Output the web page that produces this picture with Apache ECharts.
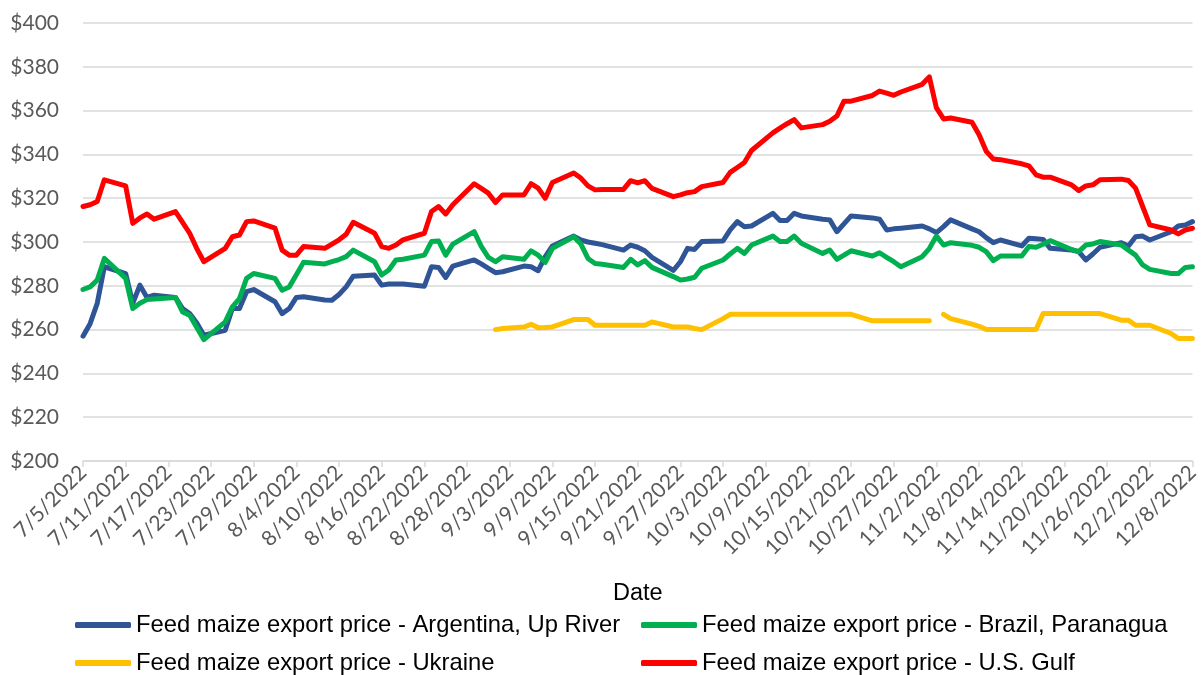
<!DOCTYPE html>
<html>
<head>
<meta charset="utf-8">
<script src="https://cdn.jsdelivr.net/npm/echarts@6/dist/echarts.min.js"></script>
<style>
html,body{margin:0;padding:0;background:#fff;}
#chart{width:1202px;height:675px;}
</style>
</head>
<body>
<div id="chart"></div>
<script>
// Observation dates (business days, 2022)
const obsDates = [
 '7/5','7/6','7/7','7/8',
 '7/11','7/12','7/13','7/14','7/15',
 '7/18','7/19','7/20','7/21','7/22',
 '7/25','7/26','7/27','7/28','7/29',
 '8/1','8/2','8/3','8/4','8/5',
 '8/8','8/9','8/10','8/11','8/12',
 '8/15','8/16','8/17','8/18','8/19',
 '8/22','8/23','8/24','8/25','8/26',
 '8/29','8/30','8/31','9/1','9/2',
 '9/5','9/6','9/7','9/8','9/9',
 '9/12','9/13','9/14','9/15','9/16',
 '9/19','9/20','9/21','9/22','9/23',
 '9/26','9/27','9/28','9/29','9/30',
 '10/3','10/4','10/5','10/6','10/7',
 '10/10','10/11','10/12','10/13','10/14',
 '10/17','10/18','10/19','10/20','10/21',
 '10/24','10/25','10/26','10/27','10/28',
 '10/31','11/1','11/2','11/3','11/4',
 '11/7','11/8','11/9','11/10','11/11',
 '11/14','11/15','11/16','11/17','11/18',
 '11/21','11/22','11/23','11/24','11/25',
 '11/28','11/29','11/30','12/1','12/2',
 '12/5','12/6','12/7','12/8'
];

const argentina = [
 257,262.7,272,288.7,
 285.6,272,280.3,274.7,275.7,
 274.7,269.6,267.3,263,257.4,
 259.7,269.6,269.6,277.3,278.3,
 272.7,267.3,269.6,274.7,275,
 273.5,273.4,276,279.5,284.4,
 284.9,280.3,280.8,280.8,280.8,
 279.8,288.7,288.4,283.8,289,
 291.8,290,288,286,286.4,
 289,288.7,286.9,293.3,298.2,
 302.7,300.9,300,299.4,298.8,
 296.3,298.6,297.6,296,293,
 287,291,297.1,296.6,300.2,
 300.5,305.5,309.3,307,307.3,
 313.1,309.8,309.8,313.1,311.9,
 310.4,310.1,304.7,308.3,311.9,
 311,310.4,305.5,306,306.3,
 307.3,306,304.3,307,310.1,
 306,304.7,302,299.7,300.9,
 298.2,301.7,301.5,301.2,297.1,
 296.3,295.6,291.8,294.5,297.6,
 299.7,298.2,302.4,302.7,300.9,
 304.7,307.3,307.8,309.3
];

const brazil = [
 278.3,279.5,282.6,292.5,
 283.4,269.6,272,273.7,274,
 274.7,268.1,266.6,261,255.4,
 263.5,270.4,274.2,283.4,285.6,
 283.4,278,279.5,285,290.7,
 290,291,292,293.3,296.3,
 291,284.9,287.2,291.8,292.1,
 294,300.2,300.5,294,299,
 304.7,298,293,291,293.3,
 292.1,296,294,290.7,297.1,
 302.4,299.1,292.5,290.2,289.8,
 288.4,292.1,289.5,291.5,288.4,
 284.2,282.6,283.1,283.9,288,
 291.8,294.5,297.1,294.8,298.6,
 302.7,300.2,300.2,302.7,299.4,
 294.8,296.3,292.1,294,296,
 293.6,295.1,293,291,288.7,
 293.3,297,302.7,298.6,299.7,
 298.5,297.6,295.6,291.5,293.6,
 293.6,297.9,297.6,299,300.6,
 296.6,295.6,298.6,299.1,300.2,
 298.6,296.3,294,289.5,287.5,
 285.6,285.6,288.4,288.7
];

const ukraine = [
 null,null,null,null,
 null,null,null,null,null,
 null,null,null,null,null,
 null,null,null,null,null,
 null,null,null,null,null,
 null,null,null,null,null,
 null,null,null,null,null,
 null,null,null,null,null,
 null,null,null,260,260.5,
 261.2,262.4,260.9,261,261.2,
 264.6,264.6,264.6,262,262,
 262,262,262,262,263.5,
 261.2,261.2,261.2,260.5,260,
 265,267,267,267,267,
 267,267,267,267,267,
 267,267,267,267,267,
 264,264,264,264,264,
 264,264,null,267,265,
 262.5,261.5,260,260,260,
 260,260,260,267.3,267.3,
 267.3,267.3,267.3,267.3,267.3,
 264.3,264.3,262,262,262,
 258.2,255.9,255.9,255.9
];

const usGulf = [
 316.2,317,318.5,328.4,
 325.6,308.5,311,312.8,310.4,
 313.9,309,304,297,291,
 297.1,302.4,303.2,309.3,309.6,
 306.3,296.3,294,294,297.9,
 297.1,299,301,303.5,309,
 304,297.9,297.1,298.6,301,
 304,313.9,316.2,312.8,317,
 326.6,324.5,322.3,318,321.5,
 321.5,326.6,324.6,320,327.2,
 331.5,329.2,325.6,323.8,324,
 324,328,327,328,324.5,
 320.7,321.5,322.5,323,325.3,
 327.2,331.8,334,336.3,341.8,
 349.8,352,354,355.9,352.1,
 353.6,355.1,357.5,364.3,364.3,
 366.9,368.9,368,367,368.5,
 372,375.4,361.2,356.2,356.6,
 354.7,349,341.4,337.9,337.6,
 335.7,334.8,330.7,329.6,329.6,
 326.1,323.5,325.6,326.1,328.4,
 328.7,328.1,324.6,316.2,307.8,
 305.5,303.7,305.5,306.3
];

const seriesNames = [
 'Feed maize export price - Argentina, Up River',
 'Feed maize export price - Brazil, Paranagua',
 'Feed maize export price - Ukraine',
 'Feed maize export price - U.S. Gulf'
];
const seriesColors = ['#2F5597','#00B050','#FFC000','#FF0000'];

// Daily category axis from 7/5/2022 to 12/8/2022
const categories = [];
(function(){
  const s = new Date(2022, 6, 5), e = new Date(2022, 11, 8);
  for (let d = new Date(s); d <= e; d.setDate(d.getDate() + 1)) {
    categories.push((d.getMonth() + 1) + '/' + d.getDate() + '/' + d.getFullYear());
  }
})();
const catIndex = {};
categories.forEach((c, i) => { catIndex[c] = i; });

function toData(values) {
  const out = [];
  let started = false;
  obsDates.forEach((dt, i) => {
    const v = values[i];
    if (v === null) { if (started) out.push([catIndex[dt + '/2022'], '-']); return; }
    started = true;
    out.push([catIndex[dt + '/2022'], v]);
  });
  return out;
}

const allValues = [argentina, brazil, ukraine, usGulf];

const chart = echarts.init(document.getElementById('chart'), null, {renderer: 'canvas'});

const legendPos = [
  {left: 75, top: 613},
  {left: 641, top: 613},
  {left: 75, top: 651},
  {left: 641, top: 651}
];

const option = {
  animation: false,
  backgroundColor: '#ffffff',
  grid: {left: 83, right: 5, top: 23, bottom: 214, containLabel: false},
  legend: seriesNames.map((n, i) => ({
    data: [n],
    left: legendPos[i].left,
    top: legendPos[i].top,
    icon: 'roundRect',
    itemWidth: 56,
    itemHeight: 6,
    itemGap: 0,
    padding: 0,
    selectedMode: false,
    textStyle: {fontFamily: 'Liberation Sans, Arial, sans-serif', fontSize: 23.8, color: '#000000', padding: [0,0,0,0]}
  })),
  xAxis: {
    type: 'category',
    data: categories,
    boundaryGap: false,
    name: 'Date',
    nameLocation: 'middle',
    nameGap: 121,
    nameTextStyle: {fontFamily: 'Liberation Sans, Arial, sans-serif', fontSize: 23.5, color: '#000000'},
    axisLine: {lineStyle: {color: '#d9d9d9', width: 1.5}},
    axisTick: {show: true, interval: 5, length: 6, lineStyle: {color: '#d9d9d9', width: 1.5}},
    axisLabel: {interval: 5, rotate: 45, margin: 8, fontFamily: 'Lato, sans-serif', fontSize: 21, color: '#595959'},
    splitLine: {show: false}
  },
  yAxis: {
    type: 'value',
    min: 200,
    max: 400,
    interval: 20,
    axisLine: {show: false},
    axisTick: {show: false},
    axisLabel: {margin: 24, fontFamily: 'Lato, sans-serif', fontSize: 21, color: '#595959', formatter: v => '$' + v},
    splitLine: {lineStyle: {color: '#d9d9d9', width: 1.5}}
  },
  series: seriesNames.map((n, i) => ({
    name: n,
    type: 'line',
    data: toData(allValues[i]),
    showSymbol: false,
    symbol: 'none',
    connectNulls: false,
    color: seriesColors[i],
    lineStyle: {width: 5, color: seriesColors[i], cap: 'round', join: 'round'},
    itemStyle: {color: seriesColors[i]},
    z: 2 + i
  }))
};
chart.setOption(option);
</script>
</body>
</html>
